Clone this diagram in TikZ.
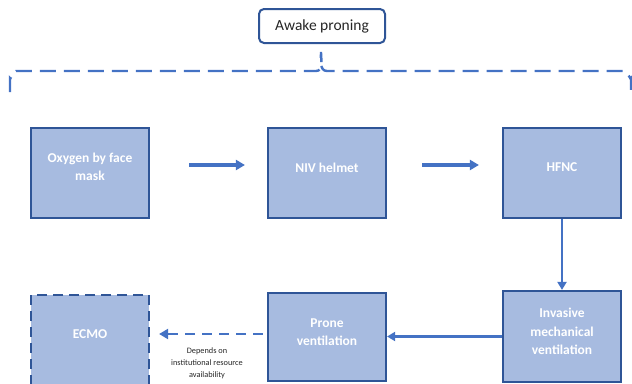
\documentclass[tikz,border=0pt]{standalone}
\usepackage{fontspec}
\setmainfont{Carlito}
\usetikzlibrary{arrows.meta}
\definecolor{boxfill}{HTML}{A7BBE0}
\definecolor{boxline}{HTML}{2F5597}
\definecolor{arrowblue}{HTML}{4472C4}
\tikzset{
  stagebox/.style={draw=boxline, fill=boxfill, line width=2.2pt, minimum width=118pt, minimum height=90pt, inner sep=0pt},
  stagetxt/.style={text=white, font=\fontsize{13.5}{18.5}\selectfont\bfseries, align=center},
  bigarrow/.style={draw=arrowblue, line width=3.2pt, -{Triangle[length=9pt,width=10pt]}},
  thinarrow/.style={draw=arrowblue, line width=2.2pt, -{Triangle[length=8pt,width=9pt]}},
  dasharrow/.style={draw=arrowblue, line width=2.6pt, dash pattern=on 10pt off 7pt, -{Triangle[length=9pt,width=10pt]}},
  bracepath/.style={draw=arrowblue, line width=2.4pt, dash pattern=on 16pt off 8pt},
  titlebox/.style={draw=boxline, fill=white, line width=2pt, rounded corners=5pt, minimum width=126pt, minimum height=34pt, font=\fontsize{15.5}{17}\selectfont, text=black!85}
}
\begin{document}
\begin{tikzpicture}[x=1pt,y=-1pt]
\useasboundingbox (0,0) rectangle (632,383);
\clip (0,0) rectangle (632,383);

\node[titlebox] (awake) at (322,26) {Awake proning};

% brace
\draw[bracepath] (10,92) -- (10,78) to[out=-90,in=180] (16,71) -- (316,71)
  to[out=0,in=-90] (321,52) to[out=-90,in=180] (327,71) -- (624,71) to[out=0,in=-90] (631,78) -- (631,90);

% top row
\node[stagebox, label={[stagetxt,yshift=6pt]center:{Oxygen by face\\mask}}] (oxy) at (90,173) {};
\node[stagebox, label={[stagetxt,yshift=5pt]center:{NIV helmet}}] (niv) at (327,173) {};
\node[stagebox, label={[stagetxt,yshift=6pt]center:{HFNC}}] (hfnc) at (562,173) {};

% bottom row
\node[stagebox, minimum height=91pt, label={[stagetxt,yshift=5pt]center:{Invasive\\mechanical\\ventilation}}] (inv) at (562,336.5) {};
\node[stagebox, minimum height=88pt, label={[stagetxt,yshift=5pt]center:{Prone\\ventilation}}] (prone) at (327,337) {};
\node[stagebox, dash pattern=on 10pt off 6pt, minimum height=100pt, label={[stagetxt,yshift=11pt]center:{ECMO}}] (ecmo) at (90,345) {};

\node[font=\fontsize{8.3}{12}\selectfont, text=black!85, align=center] (note) at (207,363) {Depends on\\institutional resource\\availability};

% connectors
\draw[bigarrow, shorten <=39pt, shorten >=22pt] ([yshift=8pt]oxy.east) -- ([yshift=8pt]niv.west);
\draw[bigarrow, shorten <=35pt, shorten >=23pt] ([yshift=8pt]niv.east) -- ([yshift=8pt]hfnc.west);
\draw[thinarrow] (hfnc.south) -- (inv.north);
\draw[thinarrow] (inv.west) -- (inv.west -| prone.east);
\draw[dasharrow, shorten <=4pt, shorten >=9pt] ([yshift=3pt]prone.west) -- ([yshift=3pt]prone.west -| ecmo.east);
\end{tikzpicture}
\end{document}
